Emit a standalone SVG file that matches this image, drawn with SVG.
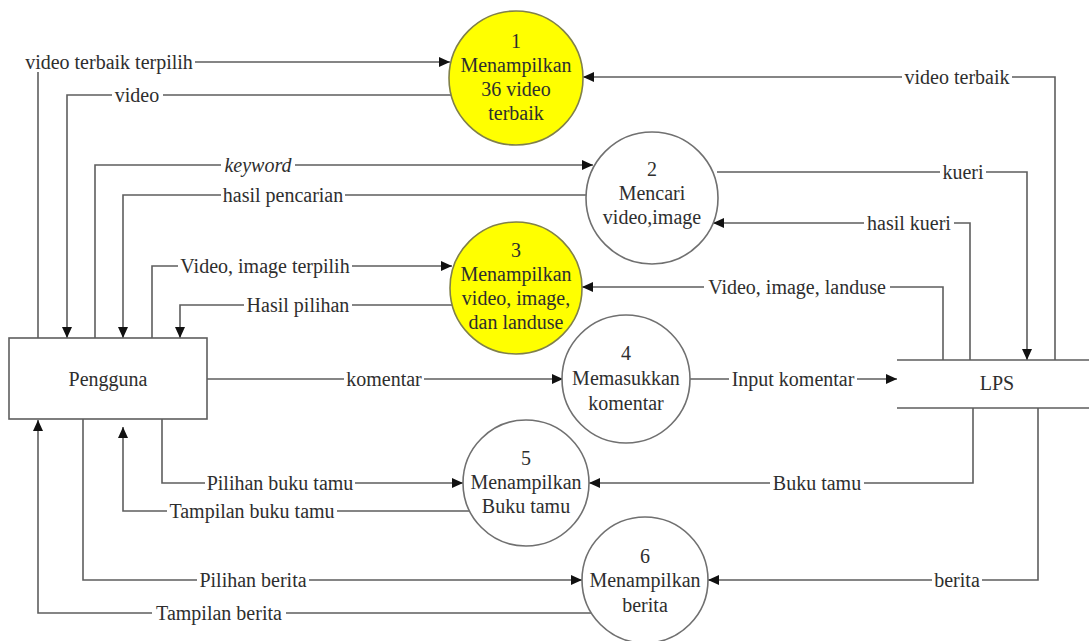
<svg xmlns="http://www.w3.org/2000/svg" width="1089" height="641" viewBox="0 0 1089 641">
<style>
text{font-family:"Liberation Serif","Times New Roman","DejaVu Serif",serif;font-size:20px;fill:#2e2e2e;text-anchor:middle}
.ln{fill:none;stroke:#5e5e5e;stroke-width:1.6}
.proc{fill:#fff;stroke:#707070;stroke-width:1.6}
.hl{fill:#ffff00;stroke:#80804a;stroke-width:1.6}
.bg{fill:#fff}
.arr{marker-end:url(#ah)}
</style>
<defs>
<marker id="ah" markerUnits="userSpaceOnUse" markerWidth="12" markerHeight="10" refX="11" refY="5" orient="auto">
<path d="M0,0 L11,5 L0,10 z" fill="#111"/>
</marker>
</defs>
<rect width="1089" height="641" fill="#fff"/>

<g id="connectors">
<path class="ln arr" d="M38,338 V62 H450"/>
<path class="ln arr" d="M451,95 H67 V338"/>
<path class="ln arr" d="M95,338 V165 H593"/>
<path class="ln arr" d="M586,195 H123 V338"/>
<path class="ln arr" d="M152,338 V266 H452"/>
<path class="ln arr" d="M452,305 H180 V338"/>
<path class="ln arr" d="M207,379 H563"/>
<path class="ln arr" d="M1055,360 V77 H583"/>
<path class="ln arr" d="M717,172 H1027 V360"/>
<path class="ln arr" d="M970,360 V223 H713"/>
<path class="ln arr" d="M943,360 V287 H582"/>
<path class="ln arr" d="M690,379 H897"/>
<path class="ln arr" d="M973,408 V483 H589"/>
<path class="ln arr" d="M1038,408 V580 H708"/>
<path class="ln arr" d="M162,419 V483 H463"/>
<path class="ln arr" d="M470,511 H123 V427"/>
<path class="ln arr" d="M83,419 V580 H582"/>
<path class="ln arr" d="M591,613 H38 V420"/>

<rect class="bg" x="23" y="52" width="172" height="20"/><text x="109" y="69">video terbaik terpilih</text>
<rect class="bg" x="112" y="85" width="51" height="20"/><text x="137" y="102">video</text>
<rect class="bg" x="221" y="155" width="74" height="20"/><text x="258" y="172" font-style="italic">keyword</text>
<rect class="bg" x="221" y="185" width="124" height="20"/><text x="283" y="202">hasil pencarian</text>
<rect class="bg" x="178" y="256" width="174" height="20"/><text x="265" y="273">Video, image terpilih</text>
<rect class="bg" x="244" y="295" width="108" height="20"/><text x="298" y="312">Hasil pilihan</text>
<rect class="bg" x="344" y="369" width="80" height="20"/><text x="384" y="386">komentar</text>
<rect class="bg" x="902" y="67" width="110" height="20"/><text x="957" y="84">video terbaik</text>
<rect class="bg" x="940" y="162" width="46" height="20"/><text x="963" y="179">kueri</text>
<rect class="bg" x="864" y="213" width="90" height="20"/><text x="909" y="230">hasil kueri</text>
<rect class="bg" x="704" y="277" width="186" height="20"/><text x="797" y="294">Video, image, landuse</text>
<rect class="bg" x="729" y="369" width="128" height="20"/><text x="793" y="386">Input komentar</text>
<rect class="bg" x="770" y="473" width="94" height="20"/><text x="817" y="490">Buku tamu</text>
<rect class="bg" x="932" y="570" width="50" height="20"/><text x="957" y="587">berita</text>
<rect class="bg" x="205" y="473" width="150" height="20"/><text x="280" y="490">Pilihan buku tamu</text>
<rect class="bg" x="167" y="501" width="170" height="20"/><text x="252" y="518">Tampilan buku tamu</text>
<rect class="bg" x="197" y="570" width="112" height="20"/><text x="253" y="587">Pilihan berita</text>
<rect class="bg" x="152" y="603" width="134" height="20"/><text x="219" y="620">Tampilan berita</text>
</g>

<g id="pengguna">
<rect x="9" y="338" width="198" height="81" fill="#fff" stroke="#5e5e5e" stroke-width="1.6"/>
<text x="108" y="386">Pengguna</text>
</g>

<g id="lps">
<path class="ln" d="M897,360 H1089 M897,408 H1089"/>
<text x="997" y="390">LPS</text>
</g>

<g id="p1">
<circle class="hl" cx="516" cy="78" r="67"/>
<text x="516" y="48">1</text>
<text x="516" y="72">Menampilkan</text>
<text x="516" y="96">36 video</text>
<text x="516" y="120">terbaik</text>
</g>

<g id="p2">
<circle class="proc" cx="652" cy="198" r="66"/>
<text x="652" y="176">2</text>
<text x="652" y="200">Mencari</text>
<text x="652" y="224">video,image</text>
</g>

<g id="p3">
<circle class="hl" cx="516" cy="288" r="66"/>
<text x="516" y="257">3</text>
<text x="516" y="281">Menampilkan</text>
<text x="516" y="305">video, image,</text>
<text x="516" y="329">dan landuse</text>
</g>

<g id="p4">
<circle class="proc" cx="626" cy="379" r="64"/>
<text x="626" y="360">4</text>
<text x="626" y="385">Memasukkan</text>
<text x="626" y="410">komentar</text>
</g>

<g id="p5">
<circle class="proc" cx="526" cy="483" r="63"/>
<text x="526" y="465">5</text>
<text x="526" y="489">Menampilkan</text>
<text x="526" y="513">Buku tamu</text>
</g>

<g id="p6">
<circle class="proc" cx="645" cy="580" r="63"/>
<text x="645" y="563">6</text>
<text x="645" y="587">Menampilkan</text>
<text x="645" y="612">berita</text>
</g>
</svg>
